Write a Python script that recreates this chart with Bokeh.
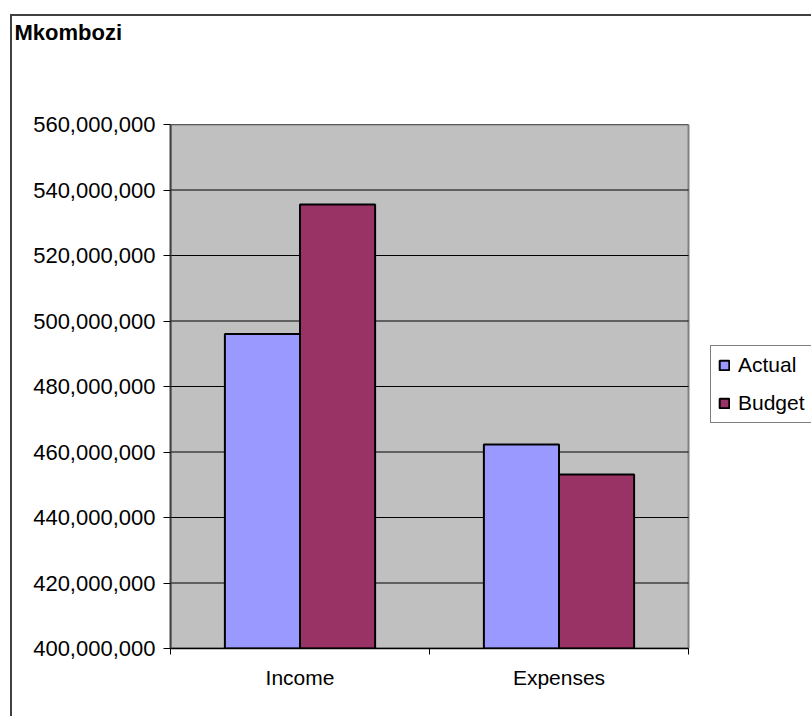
from bokeh.plotting import figure
from bokeh.models import (ColumnDataSource, FixedTicker, NumeralTickFormatter, Legend,
                          LegendItem, Range1d, InlineStyleSheet, LinearAxis, Title)
from bokeh.transform import dodge
from bokeh.embed import file_html
from bokeh.resources import INLINE

# ---- data ----
title_text = "Mkombozi"
categories = ["Income", "Expenses"]
series = ["Actual", "Budget"]
actual = [496_000_000, 462_300_000]
budget = [535_600_000, 453_100_000]
y_ticks = [400_000_000, 420_000_000, 440_000_000, 460_000_000, 480_000_000,
           500_000_000, 520_000_000, 540_000_000, 560_000_000]
colors = ["#9999FF", "#993366"]

FONT = "Liberation Sans"
centers = [i + 0.5 for i in range(len(categories))]
bounds = [float(i) for i in range(len(categories) + 1)]

# layout: plot area 170..688 px; the frame continues to the right edge (811 px)
# so that the legend, which sits right of the plot area, is not clipped.
PLOT_W, FRAME_W = 518, 641
x_end = bounds[-1] * FRAME_W / PLOT_W

src = ColumnDataSource(dict(x=centers, actual=actual, budget=budget,
                            base=[y_ticks[0]] * len(categories)))

p = figure(width=811, height=716, output_backend="svg", toolbar_location=None,
           x_range=Range1d(bounds[0], x_end), y_range=Range1d(y_ticks[0], y_ticks[-1]),
           min_border_left=170, min_border_right=0, min_border_top=124, min_border_bottom=68)

p.background_fill_color = "white"
p.border_fill_color = "white"
p.outline_line_color = None

# grey plot area
p.quad(left=[bounds[0]], right=[bounds[-1]], bottom=[y_ticks[0]], top=[y_ticks[-1]],
       fill_color="#C0C0C0", line_color="#808080", line_width=2, level="image")

# horizontal gridlines, limited to the plot area
p.xgrid.visible = False
p.ygrid.visible = False
p.segment(x0=[bounds[0]] * len(y_ticks), x1=[bounds[-1]] * len(y_ticks),
          y0=y_ticks, y1=y_ticks, line_color="black", line_width=1, level="underlay")

bw = 0.29
r1 = p.vbar(x=dodge("x", -bw / 2, range=p.x_range), top="actual", bottom="base", width=bw,
            source=src, fill_color=colors[0], line_color="black", line_width=2)
r2 = p.vbar(x=dodge("x", bw / 2, range=p.x_range), top="budget", bottom="base", width=bw,
            source=src, fill_color=colors[1], line_color="black", line_width=2)

# y axis
ya = p.yaxis[0]
ya.ticker = FixedTicker(ticks=y_ticks)
ya.formatter = NumeralTickFormatter(format="0,0")
ya.major_label_text_font = FONT
ya.major_label_text_font_size = "22px"
ya.major_label_text_color = "black"
ya.major_tick_in = 0
ya.major_tick_out = 7
ya.major_tick_line_color = "black"
ya.minor_tick_line_color = None
ya.axis_line_color = "#404040"
ya.axis_line_width = 2
ya.major_label_standoff = 8

# x axis
xa = p.xaxis[0]
xa.bounds = (bounds[0], bounds[-1])
xa.ticker = FixedTicker(ticks=centers, minor_ticks=bounds)
xa.major_label_overrides = {c: lab for c, lab in zip(centers, categories)}
xa.major_label_text_font = FONT
xa.major_label_text_font_size = "21px"
xa.major_label_text_color = "black"
xa.major_tick_in = 0
xa.major_tick_out = 0
xa.minor_tick_in = 0
xa.minor_tick_out = 6
xa.minor_tick_line_color = "black"
xa.axis_line_color = "black"
xa.axis_line_width = 1.5
xa.major_label_standoff = 11

# legend
legend = Legend(items=[LegendItem(label=series[0], renderers=[r1]),
                       LegendItem(label=series[1], renderers=[r2])],
                location=(540, 225))
legend.border_line_color = "black"
legend.border_line_width = 1
legend.background_fill_color = "white"
legend.background_fill_alpha = 1
legend.label_text_font = FONT
legend.label_text_font_size = "21px"
legend.label_text_color = "black"
legend.glyph_width = 12
legend.glyph_height = 12
legend.label_standoff = 8
legend.padding = 7
legend.spacing = 14
legend.margin = 0
p.add_layout(legend)

# invisible spacer above the plot area (one hidden tick), then the chart title
spacer = LinearAxis(ticker=FixedTicker(ticks=[1]), axis_line_color=None,
                    major_tick_out=80, major_tick_in=0, major_tick_line_color=None,
                    minor_tick_out=0, minor_tick_in=0, minor_tick_line_color=None,
                    major_label_overrides={1: ""}, major_label_standoff=0,
                    major_label_text_font_size="1px", major_label_text_color=None)
p.add_layout(spacer, "above")
p.add_layout(Title(text=title_text, align="left", offset=-156, standoff=0,
                   text_font=FONT, text_font_size="22px", text_font_style="bold",
                   text_color="black"), "above")

# outer chart border (left and top edges are visible inside the window)
p.stylesheets = [InlineStyleSheet(css="""
:host { position: relative; }
:host::after {
  content: ""; position: absolute; left: 10px; top: 14px; right: -20px; bottom: -20px;
  border-left: 2px solid #404040; border-top: 2px solid #404040;
  pointer-events: none; z-index: 10;
}
""")]

open("out.html", "w").write(file_html(p, INLINE))
